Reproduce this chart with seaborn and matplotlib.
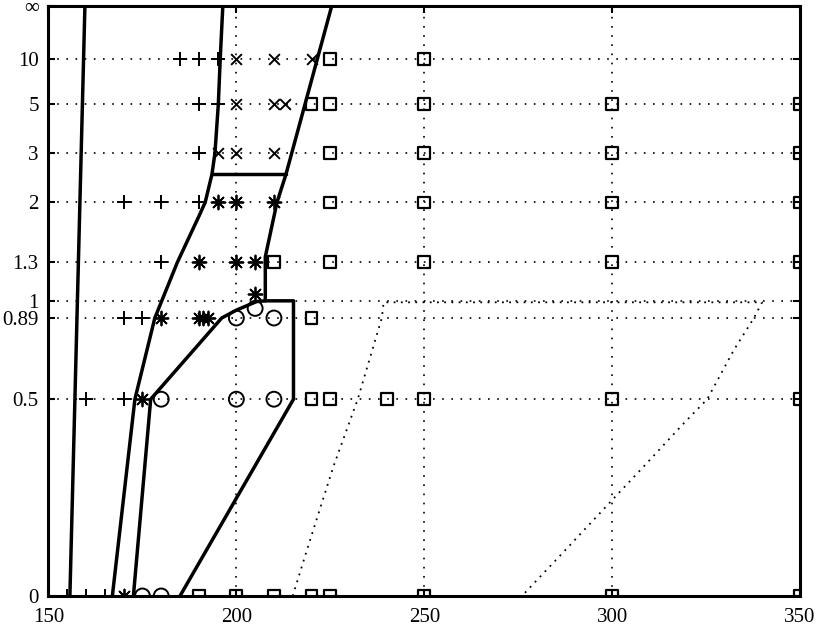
#!/usr/bin/env python3
"""
Region map: marker grid and solid boundaries on an r/(1+r) squashed y axis
"""

import numpy as np
import matplotlib
matplotlib.use('Agg')
import matplotlib.pyplot as plt
import seaborn as sns

INF = np.inf

# axis ticks (y values are r, drawn at r/(1+r))
x_ticks = [150, 200, 250, 300, 350]
y_ticks = [0, 0.5, 0.89, 1, 1.3, 2, 3, 5, 10, INF]
y_tick_labels = ['0', '0.5', '0.89', '1', '1.3', '2', '3', '5', '10', '\u221e']

# markers
plus_x = [185, 190, 195, 190, 195, 190, 170, 180, 190, 180, 170, 175, 160, 170, 155, 160, 165]
plus_r = [10, 10, 10, 5, 5, 3, 2, 2, 2, 1.3, 0.89, 0.89, 0.5, 0.5, 0, 0, 0]

cross_x = [200, 210, 220, 200, 210, 213, 195, 200, 210]
cross_r = [10, 10, 10, 5, 5, 5, 3, 3, 3]

star_x = [195, 200, 210, 190, 200, 205, 205, 180, 190, 191, 192.5, 175, 170]
star_r = [2, 2, 2, 1.3, 1.3, 1.3, 1.05, 0.89, 0.89, 0.89, 0.89, 0.5, 0]

circle_x = [205, 200, 210, 180, 200, 210, 175, 180]
circle_r = [0.95, 0.89, 0.89, 0.5, 0.5, 0.5, 0, 0]

square_x = [225, 250,
            220, 225, 250, 300, 350,
            225, 250, 300, 350,
            225, 250, 300, 350,
            210, 225, 250, 300, 350,
            220,
            220, 225, 240, 250, 300, 350,
            190, 200, 210, 220, 225, 250, 300, 350]
square_r = [10, 10,
            5, 5, 5, 5, 5,
            3, 3, 3, 3,
            2, 2, 2, 2,
            1.3, 1.3, 1.3, 1.3, 1.3,
            0.89,
            0.5, 0.5, 0.5, 0.5, 0.5, 0.5,
            0, 0, 0, 0, 0, 0, 0, 0]

# solid boundaries
line_a_x = [155.7, 159.7]
line_a_r = [0, INF]

line_b_x = [167, 173, 178.3, 184.3, 190, 191.7, 193.5, 194.3, 195.2, 195.7, 196.4]
line_b_r = [0, 0.5, 0.89, 1.3, 1.8, 2, 2.5, 3, 5, 10, INF]

line_c_x = [225.4, 213.2, 210.8, 207.7, 207.7, 215.2, 215.2, 185]
line_c_r = [INF, 2.5, 2, 1.35, 1, 1, 0.5, 0]

line_d_x = [172.6, 177.2, 196.1, 200.1, 205.4, 207.7]
line_d_r = [0, 0.5, 0.89, 0.94, 0.995, 1]

shelf_x = [193.5, 213.2]
shelf_r = [2.5, 2.5]

# dotted curve
dot_x = [215, 218.8, 225.8, 232.3, 238.7, 239.2, 339.9, 337.7, 332.4, 325.3,
         319.1, 308.4, 300, 288, 276]
dot_r = [0, 0.085, 0.28, 0.5, 0.89, 0.99, 0.99, 0.889, 0.715, 0.5,
         0.414, 0.281, 0.194, 0.088, 0]


def squash(r):
    r = np.asarray(r, dtype=float)
    with np.errstate(invalid='ignore', divide='ignore'):
        return np.where(np.isinf(r), 1.0, r / (1.0 + r))


sns.set_theme(style='ticks')
plt.rcParams['font.family'] = ['Liberation Serif', 'DejaVu Serif']
plt.rcParams['font.size'] = 15

fig = plt.figure(figsize=(8.3, 6.3), dpi=100)
ax = fig.add_axes([0.0584, 0.054, 0.9055, 0.937])

grid_style = dict(color='black', linewidth=1.2, linestyle=(0, (1, 4.5)))
for xv in x_ticks[1:-1]:
    ax.axvline(xv, zorder=1, **grid_style)
for rv in y_ticks[1:-1]:
    ax.axhline(squash(rv), zorder=1, **grid_style)

line_kw = dict(color='black', linewidth=2.5, sort=False, estimator=None, ax=ax, zorder=3)
for xs, rs in [(line_a_x, line_a_r), (line_b_x, line_b_r), (line_c_x, line_c_r),
               (line_d_x, line_d_r), (shelf_x, shelf_r)]:
    sns.lineplot(x=xs, y=squash(rs), **line_kw)

sns.lineplot(x=dot_x, y=squash(dot_r), color='black', linewidth=1.3,
             linestyle=(0, (1, 3)), sort=False, estimator=None, ax=ax, zorder=2)

sns.scatterplot(x=plus_x, y=squash(plus_r), marker='+', s=110, color='black',
                linewidth=1.4, ax=ax, zorder=4)
sns.scatterplot(x=cross_x, y=squash(cross_r), marker='x', s=60, color='black',
                linewidth=1.4, ax=ax, zorder=4)
sns.scatterplot(x=star_x, y=squash(star_r), marker=(8, 2, 0), s=100, color='black',
                linewidth=1.3, ax=ax, zorder=4)
sns.scatterplot(x=circle_x, y=squash(circle_r), marker='o', s=115, facecolor='none',
                edgecolor='black', linewidth=1.4, ax=ax, zorder=4)
sns.scatterplot(x=square_x, y=squash(square_r), marker='s', s=72, facecolor='none',
                edgecolor='black', linewidth=1.6, ax=ax, zorder=4)

ax.set_xlim(150, 350)
ax.set_ylim(0, 1)
ax.set_xticks(x_ticks)
ax.set_yticks(squash(y_ticks))
ax.set_yticklabels(y_tick_labels)
ax.tick_params(direction='in', length=5, width=1.5, top=True, right=True,
               colors='black', labelsize=15)
ax.tick_params(axis='x', pad=9)
ax.tick_params(axis='y', pad=7)
for sp in ax.spines.values():
    sp.set_visible(True)
    sp.set_linewidth(2.2)
    sp.set_color('black')
ax.set_xlabel('')
ax.set_ylabel('')

fig.savefig('out.png', dpi=100)
plt.close(fig)
